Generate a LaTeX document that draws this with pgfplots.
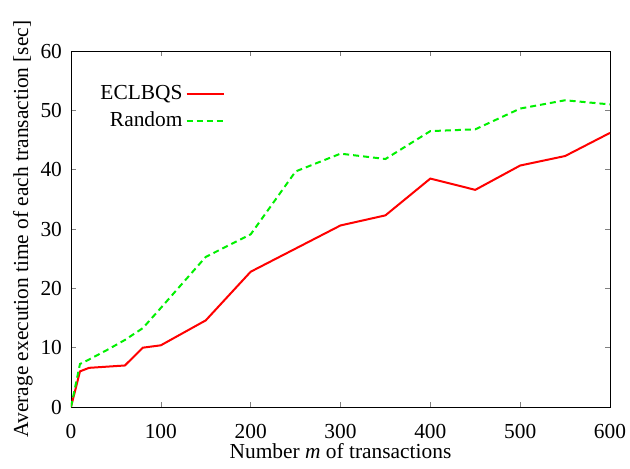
\documentclass[border=0pt]{standalone}
\usepackage{pgfplots}
\pgfplotsset{compat=1.18}
\usepackage{fontspec}
\setmainfont{Liberation Serif}

\definecolor{gpred}{RGB}{255,0,0}
\definecolor{gpgreen}{RGB}{0,240,0}

\begin{document}
\begin{tikzpicture}[font=\fontsize{10.7}{12.5}\selectfont]
\path[use as bounding box] (-35.5pt,-30.5pt) rectangle (279.5pt,203.5pt);
\begin{axis}[
  scale only axis,
  width=269.5pt,
  height=178pt,
  xmin=0, xmax=600,
  ymin=0, ymax=60,
  xtick={0,100,...,600},
  ytick={0,10,...,60},
  tick align=inside,
  major tick length=2.5pt,
  minor tick num=0,
  /pgf/number format/assume math mode=true,
  xticklabel style={yshift=-5pt},
  yticklabel style={xshift=-1pt},
  xlabel={Number \textit{m} of transactions},
  xlabel style={yshift=2pt, inner sep=1pt},
  ylabel={Average execution time of each transaction [sec]},
  ylabel style={yshift=-3pt},
  legend style={at={(axis cs:178,55.4)}, anchor=north east,
    draw=none, fill=none, row sep=1.5pt,
    nodes={inner sep=1.5pt}},
  legend cell align=right,
  legend plot pos=right,
  legend image code/.code={\draw[#1] (0pt,0pt) -- (18.5pt,0pt);},
]
\addplot[gpred, line width=1pt] coordinates {
  (0,0) (10,6.0) (20,6.6) (40,6.8) (60,7.0) (80,10.0) (100,10.4)
  (150,14.6) (200,22.8) (250,26.7) (300,30.6) (350,32.3) (400,38.5)
  (450,36.6) (500,40.7) (550,42.3) (600,46.2)
};
\addlegendentry{ECLBQS}
\addplot[gpgreen, line width=1pt, dash pattern=on 3pt off 2pt] coordinates {
  (0,0) (10,7.25) (20,8.0) (40,9.6) (60,11.3) (80,13.3) (100,16.7)
  (150,25.3) (200,29.1) (250,39.7) (300,42.7) (350,41.8) (400,46.5)
  (450,46.8) (500,50.3) (550,51.7) (600,51.0)
};
\addlegendentry{Random}
\end{axis}
\end{tikzpicture}
\end{document}
